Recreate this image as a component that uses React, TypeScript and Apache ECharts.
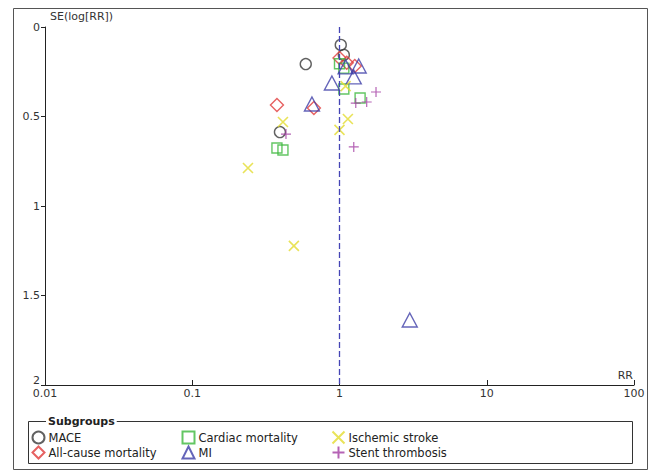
import React, { useEffect, useRef } from "react";
import * as echarts from "echarts";

// MACE (circles)
const maceRR = [1.02, 1.07, 0.59, 0.394];
const maceSE = [0.10, 0.156, 0.207, 0.587];
// All-cause mortality (diamonds)
const allcauseRR = [1.0, 1.12, 1.27, 0.376, 0.67];
const allcauseSE = [0.173, 0.2, 0.218, 0.436, 0.452];
// Cardiac mortality (squares)
const cardiacRR = [1.0, 1.07, 1.07, 1.38, 0.376, 0.413];
const cardiacSE = [0.205, 0.23, 0.346, 0.397, 0.676, 0.687];
// MI (triangles)
const miRR = [0.65, 0.888, 1.25, 1.35, 1.1, 3.0];
const miSE = [0.43, 0.313, 0.279, 0.218, 0.223, 1.637];
// Ischemic stroke (x)
const strokeRR = [0.239, 0.413, 0.49, 1.0, 1.14, 1.1];
const strokeSE = [0.788, 0.531, 1.223, 0.575, 0.514, 0.33];
// Stent thrombosis (+)
const stentRR = [0.433, 1.25, 1.29, 1.53, 1.77];
const stentSE = [0.598, 0.67, 0.425, 0.419, 0.363];

const yTicks = [0, 0.5, 1, 1.5, 2];

const FONT = "DejaVu Sans";

const zip = (a: number[], b: number[]) => a.map((v, i) => [v, b[i]]);

export default function App() {
  const ref = useRef<HTMLDivElement>(null);
  useEffect(() => {
    document.body.style.margin = "0";
    if (!ref.current) return;
    const chart = echarts.init(ref.current, null, { renderer: "svg" });
    const mk = (
      name: string,
      symbol: string,
      size: number | number[],
      color: string,
      data: number[][],
      extra: any = {}
    ) => ({
      name,
      type: "scatter",
      symbol,
      symbolSize: size,
      data,
      itemStyle: { color: "none", borderColor: color, borderWidth: 1.4 },
      z: 3,
      ...extra,
    });
    const legendBase = {
      orient: "vertical",
      top: 429,
      itemWidth: 12,
      itemHeight: 12,
      itemGap: -2,
      padding: 0,
      textStyle: {
        fontFamily: FONT,
        fontSize: 11.5,
        color: "#222",
        lineHeight: 12,
        padding: [0, 0, 0, -1],
      },
      selectedMode: false,
    };
    chart.setOption({
      animation: false,
      textStyle: { fontFamily: FONT },
      grid: { left: 45, right: 18, top: 27, bottom: 87 },
      xAxis: {
        type: "log",
        logBase: 10,
        min: 0.01,
        max: 100,
        axisLine: { onZero: false, lineStyle: { color: "#222", width: 1 } },
        axisTick: { show: true, length: 5, inside: true, lineStyle: { color: "#222" } },
        minorTick: { show: false },
        splitLine: { show: false },
        axisLabel: { color: "#333", fontSize: 11, margin: 3, fontFamily: FONT },
      },
      yAxis: {
        type: "value",
        inverse: true,
        min: 0,
        max: 2,
        interval: 0.5,
        axisLine: { show: true, onZero: false, lineStyle: { color: "#222", width: 1 } },
        axisTick: { show: true, length: 4, lineStyle: { color: "#222" } },
        splitLine: { show: false },
        axisLabel: {
          color: "#333",
          fontSize: 11,
          margin: 5,
          fontFamily: FONT,
          formatter: (v: number) =>
            v === 2 ? "{b|2}" : yTicks.includes(v) ? String(v) : "",
          rich: { b: { fontSize: 11, color: "#333", padding: [0, 0, 9, 0] } },
        },
      },
      legend: [
        { ...legendBase, left: 30, data: ["MACE", "All-cause mortality"] },
        { ...legendBase, left: 180, data: ["Cardiac mortality", "MI"] },
        { ...legendBase, left: 330, data: ["Ischemic stroke", "Stent thrombosis"] },
      ],
      graphic: [
        {
          type: "rect",
          shape: { x: 13.5, y: 8.5, width: 634, height: 461 },
          style: { fill: "none", stroke: "#555", lineWidth: 1 },
          silent: true,
        },
        {
          type: "rect",
          shape: { x: 28.5, y: 421.5, width: 604, height: 42 },
          style: { fill: "none", stroke: "#333", lineWidth: 1 },
          silent: true,
        },
        {
          type: "text",
          x: 46,
          y: 421,
          style: {
            text: "Subgroups",
            fontFamily: FONT,
            fontSize: 11,
            fontWeight: "bold",
            fill: "#222",
            verticalAlign: "middle",
            backgroundColor: "#fff",
            padding: [0, 2],
          },
          z: 10,
        },
        {
          type: "text",
          x: 50,
          y: 16,
          style: {
            text: "SE(log[RR])",
            fontFamily: FONT,
            fontSize: 11,
            fill: "#333",
            verticalAlign: "middle",
          },
        },
        {
          type: "text",
          x: 633,
          y: 375,
          style: {
            text: "RR",
            fontFamily: FONT,
            fontSize: 11,
            fill: "#333",
            align: "right",
            verticalAlign: "middle",
          },
        },
      ],
      series: [
        mk("MACE", "circle", 11, "#3a3a3a", zip(maceRR, maceSE), {
          markLine: {
            silent: true,
            symbol: "none",
            label: { show: false },
            lineStyle: { color: "#4545b5", type: [6, 3], width: 1.3 },
            data: [{ xAxis: 1 }],
          },
        }),
        mk("All-cause mortality", "diamond", 13, "#e03a3a", zip(allcauseRR, allcauseSE)),
        mk("Cardiac mortality", "rect", 10, "#3cb83c", zip(cardiacRR, cardiacSE)),
        mk("MI", "triangle", [15, 14], "#3f3fa8", zip(miRR, miSE)),
        mk(
          "Ischemic stroke",
          "path://M0,0L10,10M10,0L0,10",
          10,
          "#e4dc30",
          zip(strokeRR, strokeSE),
          { itemStyle: { color: "none", borderColor: "#e4dc30", borderWidth: 1.6 } }
        ),
        mk(
          "Stent thrombosis",
          "path://M5,0L5,10M0,5L10,5",
          10,
          "#a33ca3",
          zip(stentRR, stentSE),
          { itemStyle: { color: "none", borderColor: "#a33ca3", borderWidth: 1.2 } }
        ),
      ],
    });
    return () => chart.dispose();
  }, []);
  return <div ref={ref} style={{ width: 652, height: 472 }} />;
}
